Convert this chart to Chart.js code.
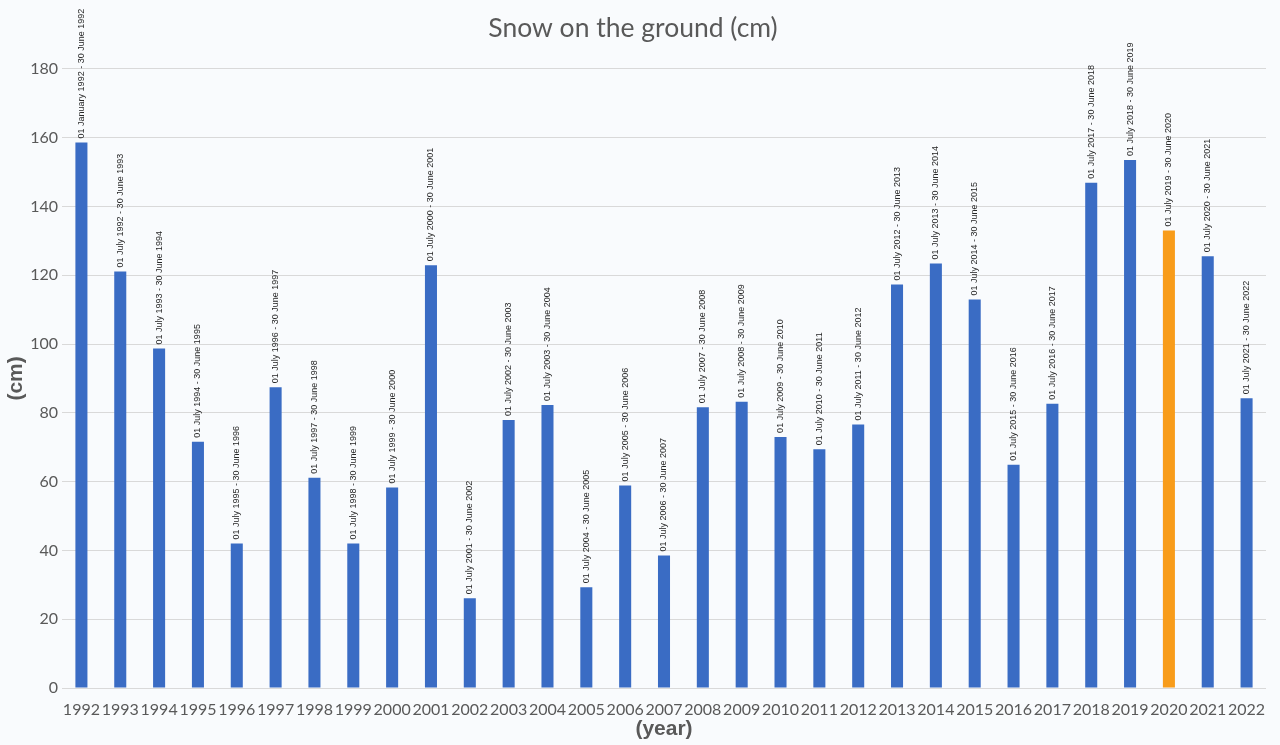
<!DOCTYPE html>
<html>
<head>
<meta charset="utf-8">
<title>Snow on the ground (cm)</title>
<script src="https://cdn.jsdelivr.net/npm/chart.js@4/dist/chart.umd.min.js"></script>
<style>
  html, body { margin: 0; padding: 0; background: #f9fbfd; }
  canvas { display: block; }
</style>
</head>
<body>
<canvas id="chart" width="1280" height="745"></canvas>
<script>
// Seasonal snow depth, one bar per season
const years = ['1992','1993','1994','1995','1996','1997','1998','1999','2000','2001',
  '2002','2003','2004','2005','2006','2007','2008','2009','2010','2011',
  '2012','2013','2014','2015','2016','2017','2018','2019','2020','2021','2022'];

const snowCm = [158.6, 121.1, 98.7, 71.6, 42.0, 87.4, 61.1, 42.0, 58.3, 122.9,
  26.1, 77.9, 82.3, 29.3, 58.9, 38.5, 81.6, 83.2, 73.0, 69.4,
  76.6, 117.3, 123.4, 112.9, 64.9, 82.6, 146.9, 153.5, 133.0, 125.5, 84.2];

const periods = [
  '01 January 1992 - 30 June 1992',
  '01 July 1992 - 30 June 1993', '01 July 1993 - 30 June 1994',
  '01 July 1994 - 30 June 1995', '01 July 1995 - 30 June 1996',
  '01 July 1996 - 30 June 1997', '01 July 1997 - 30 June 1998',
  '01 July 1998 - 30 June 1999', '01 July 1999 - 30 June 2000',
  '01 July 2000 - 30 June 2001', '01 July 2001 - 30 June 2002',
  '01 July 2002 - 30 June 2003', '01 July 2003 - 30 June 2004',
  '01 July 2004 - 30 June 2005', '01 July 2005 - 30 June 2006',
  '01 July 2006 - 30 June 2007', '01 July 2007 - 30 June 2008',
  '01 July 2008 - 30 June 2009', '01 July 2009 - 30 June 2010',
  '01 July 2010 - 30 June 2011', '01 July 2011 - 30 June 2012',
  '01 July 2012 - 30 June 2013', '01 July 2013 - 30 June 2014',
  '01 July 2014 - 30 June 2015', '01 July 2015 - 30 June 2016',
  '01 July 2016 - 30 June 2017', '01 July 2017 - 30 June 2018',
  '01 July 2018 - 30 June 2019', '01 July 2019 - 30 June 2020',
  '01 July 2020 - 30 June 2021', '01 July 2021 - 30 June 2022'];

const highlightYear = '2020';
const BLUE = '#3a6cc4';
const ORANGE = '#f89c1a';
const barColors = years.map(y => y === highlightYear ? ORANGE : BLUE);

// Vertical period captions above each bar
const periodLabels = {
  id: 'periodLabels',
  afterDatasetsDraw(chart) {
    const ctx = chart.ctx;
    const meta = chart.getDatasetMeta(0);
    ctx.save();
    ctx.font = '9px "Liberation Sans", Arial, sans-serif';
    ctx.fillStyle = '#262626';
    ctx.textAlign = 'left';
    ctx.textBaseline = 'middle';
    meta.data.forEach((bar, i) => {
      ctx.save();
      ctx.translate(bar.x, bar.y - 4);
      ctx.rotate(-Math.PI / 2);
      ctx.fillText(periods[i], 0, 0);
      ctx.restore();
    });
    ctx.restore();
  }
};

const bgFill = {
  id: 'bgFill',
  beforeDraw(chart) {
    const ctx = chart.ctx;
    ctx.save();
    ctx.fillStyle = '#f9fbfd';
    ctx.fillRect(0, 0, chart.width, chart.height);
    ctx.restore();
  }
};

new Chart(document.getElementById('chart'), {
  type: 'bar',
  data: {
    labels: years,
    datasets: [{
      data: snowCm,
      backgroundColor: barColors,
      borderWidth: 0,
      categoryPercentage: 1,
      barPercentage: 0.31
    }]
  },
  options: {
    responsive: false,
    animation: false,
    layout: { padding: { left: 0, right: 14, top: 0, bottom: 0 } },
    plugins: {
      legend: { display: false },
      tooltip: { enabled: false },
      title: {
        display: true,
        text: 'Snow on the ground (cm)',
        color: '#595959',
        font: { family: 'Lato, "Open Sans", sans-serif', size: 26.5, weight: 'normal', lineHeight: 1.2 },
        padding: { top: 13, bottom: 24 }
      }
    },
    scales: {
      x: {
        grid: { display: false, drawTicks: false },
        border: { display: false },
        ticks: {
          color: '#595959',
          font: { family: 'Lato, "Open Sans", sans-serif', size: 16 },
          maxRotation: 0,
          autoSkip: false,
          padding: 12
        },
        title: {
          display: true,
          text: '(year)',
          color: '#595959',
          font: { family: '"Liberation Sans", Arial, sans-serif', size: 21, weight: 'bold', lineHeight: 1.2 },
          padding: { top: 0, bottom: 3 }
        },
        afterFit(scale) { scale.height = 57; }
      },
      y: {
        min: 0,
        max: 180,
        grid: { color: '#d9d9d9', lineWidth: 1, drawTicks: false },
        border: { display: false },
        ticks: {
          stepSize: 20,
          color: '#595959',
          font: { family: 'Lato, "Open Sans", sans-serif', size: 16 },
          padding: 4
        },
        title: {
          display: true,
          text: '(cm)',
          color: '#595959',
          font: { family: '"Liberation Sans", Arial, sans-serif', size: 21, weight: 'bold', lineHeight: 1.2 },
          padding: { top: 4, bottom: 0 }
        },
        afterFit(scale) { scale.width = 62; }
      }
    }
  },
  plugins: [bgFill, periodLabels]
});
</script>
</body>
</html>
